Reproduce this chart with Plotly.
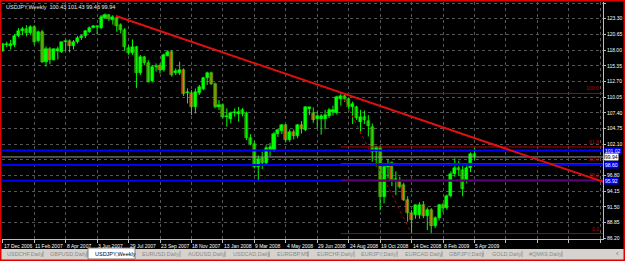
import plotly.graph_objects as go

symbol = "USDJPY,Weekly"
date_labels = ["17 Dec 2006", "11 Feb 2007", "8 Apr 2007", "3 Jun 2007", "29 Jul 2007",
               "23 Sep 2007", "18 Nov 2007", "13 Jan 2008", "9 Mar 2008", "4 May 2008",
               "29 Jun 2008", "24 Aug 2008", "19 Oct 2008", "14 Dec 2008", "8 Feb 2009", "5 Apr 2009"]
label_step = 8

opens = [117.9, 118.9, 118.7, 118.8, 120.3, 121.2, 121.5, 120.9, 121.9, 119.5,
         121.0, 116.0, 118.1, 116.3, 117.8, 117.7, 119.3, 119.5, 118.7, 119.4,
         120.0, 120.3, 121.1, 121.8, 121.9, 121.7, 123.5, 123.95, 123.1, 123.5,
         122.2, 121.4, 118.3, 117.45, 118.45, 114.06, 116.77, 115.87, 112.7, 115.2,
         115.3, 114.6, 117.0, 117.7, 114.06, 114.2, 114.6, 110.7, 110.8, 108.4,
         110.8, 111.5, 113.2, 114.06, 112.26, 108.4, 108.8, 106.7, 106.3, 107.3,
         107.2, 107.9, 107.3, 103.1, 102.2, 98.2, 99.7, 98.9, 101.1, 101.1,
         103.9, 104.3, 105.3, 102.8, 104.2, 103.4, 105.3, 104.5, 108.0, 107.4,
         106.3, 106.3, 106.3, 106.9, 107.6, 107.3, 109.8, 110.2, 109.8, 108.4,
         108.4, 105.9, 106.75, 106.0, 105.06, 100.8, 101.4, 93.2, 98.3, 98.86,
         96.05, 95.8, 95.2, 92.7, 90.4, 90.1, 90.2, 91.8, 89.95, 91.0,
         88.2, 89.6, 91.8, 91.4, 93.35, 97.06, 98.0, 97.8, 95.9, 98.0,
         100.43]
highs = [119.2, 119.4, 119.7, 120.7, 121.7, 121.9, 122.2, 122.2, 122.2, 121.3,
         121.4, 118.6, 118.5, 118.3, 118.6, 119.4, 119.8, 119.8, 119.7, 120.4,
         120.6, 121.4, 122.0, 122.2, 122.1, 123.9, 124.2, 124.1, 123.9, 123.8,
         122.5, 121.7, 118.85, 119.8, 118.7, 117.16, 117.0, 116.3, 115.5, 115.75,
         115.75, 117.44, 118.0, 118.0, 114.9, 116.03, 114.9, 111.53, 111.25, 111.5,
         112.1, 113.5, 114.35, 114.35, 112.5, 109.56, 109.0, 108.15, 107.6, 108.15,
         108.4, 108.2, 107.6, 103.8, 102.6, 100.2, 100.8, 101.9, 102.3, 104.2,
         104.7, 105.5, 105.5, 104.6, 104.6, 105.5, 106.0, 108.5, 108.4, 108.3,
         107.6, 107.2, 107.9, 108.2, 108.6, 110.3, 110.67, 110.5, 110.0, 109.3,
         108.6, 107.9, 107.8, 107.0, 105.6, 101.8, 101.9, 98.9, 99.6, 99.2,
         97.5, 96.6, 95.6, 93.3, 91.0, 91.9, 92.3, 92.5, 91.4, 91.3,
         89.9, 92.0, 92.2, 93.6, 97.5, 99.7, 99.3, 98.5, 98.4, 100.7,
         101.43]
lows = [117.7, 118.5, 118.1, 118.5, 120.2, 120.5, 120.3, 120.5, 118.9, 119.3,
        115.8, 115.2, 115.6, 116.2, 116.4, 117.5, 117.8, 117.6, 118.1, 119.1,
        119.7, 120.0, 120.9, 121.7, 120.7, 121.5, 123.35, 122.9, 122.3, 121.1,
        120.8, 117.9, 117.2, 117.2, 111.6, 113.78, 115.47, 112.5, 112.5, 114.35,
        114.06, 114.35, 116.9, 113.5, 113.78, 113.78, 110.24, 108.99, 107.0, 107.3,
        110.4, 111.2, 112.1, 112.1, 108.15, 107.87, 106.46, 105.05, 105.6, 106.74,
        105.9, 106.8, 102.8, 101.9, 98.0, 95.8, 97.9, 98.5, 100.1, 100.8,
        103.3, 103.8, 102.5, 102.5, 102.9, 103.1, 103.9, 104.3, 107.0, 105.7,
        104.8, 103.7, 104.6, 106.5, 106.9, 107.1, 108.6, 109.2, 108.0, 105.5,
        106.2, 103.9, 105.5, 103.4, 99.1, 98.3, 90.9, 92.1, 96.3, 95.0,
        93.5, 94.6, 92.5, 89.0, 87.0, 89.5, 89.5, 89.6, 87.6, 87.1,
        87.9, 89.2, 90.6, 91.0, 93.1, 96.6, 96.8, 93.3, 95.5, 97.4,
        99.46]
closes = [119.0, 119.1, 119.1, 120.4, 121.3, 121.5, 120.9, 121.9, 119.4, 121.0,
          116.0, 118.2, 116.4, 118.1, 118.1, 119.3, 119.6, 118.7, 119.4, 120.1,
          120.3, 121.2, 121.8, 122.05, 122.05, 123.6, 123.95, 123.2, 123.6, 122.05,
          121.4, 118.5, 117.55, 118.45, 114.06, 116.77, 115.87, 112.66, 115.2, 115.3,
          114.6, 117.16, 117.6, 113.8, 114.46, 114.6, 110.57, 110.97, 108.4, 110.97,
          111.8, 113.2, 114.06, 112.26, 108.4, 108.8, 106.74, 106.9, 107.3, 107.6,
          107.6, 107.2, 103.1, 102.2, 98.3, 99.6, 98.9, 101.4, 101.6, 103.9,
          104.5, 105.3, 102.8, 104.2, 103.4, 105.3, 104.6, 108.3, 108.3, 106.2,
          106.8, 106.9, 107.0, 107.9, 107.9, 110.1, 110.2, 109.8, 108.4, 108.9,
          106.5, 106.75, 106.2, 105.1, 100.83, 101.6, 93.23, 98.3, 98.8, 96.05,
          96.3, 94.9, 92.7, 90.4, 89.3, 91.8, 91.9, 90.0, 90.98, 88.2,
          89.6, 91.8, 91.4, 93.35, 97.06, 98.0, 97.8, 94.5, 98.0, 100.4,
          99.94]

price_ticks = [86.20, 88.85, 91.50, 94.15, 96.80, 99.45, 102.10, 104.75, 107.40,
               110.05, 112.70, 115.35, 118.00, 120.65, 123.30, 125.95]
hidden_ticks = [99.45]  # covered by the price tags in the reference
blue_levels = [101.02, 98.60, 95.92]
bid_price = 99.94
fib_high_bar, fib_high = 86, 110.67
fib_low_bar, fib_low = 104, 87.0
fib_ratios = [0.0, 0.382, 0.5, 0.618, 1.0]
fib_texts = ["0.0", "38.2", "50.0", "61.8", "100.0"]
trend_start = (28.8, 123.75)
trend_end = (152.9, 95.70)
tabs = ["USDCHF,Daily", "GBPUSD,Daily", "USDJPY,Weekly", "EURUSD,Daily", "AUDUSD,Daily",
        "USDCAD,Daily", "EURGBP,M5", "EURCHF,Daily", "EURJPY,Daily", "EURCAD,Daily",
        "GBPJPY,Daily", "GOLD,Daily", "#QMK9,Daily"]
active_tab = "USDJPY,Weekly"

# ---------------- layout geometry ----------------
W, H = 625, 261
ML, MR, MT, MB = 2, 22, 2, 22
PW, PH = W - ML - MR, H - MT - MB
X_RANGE = [-0.2, 152.7]
Y_RANGE = [86.08, 126.12]


def px_x(px):
    return (px - ML) / PW


def px_y(py):
    return (H - MB - py) / PH


FONT = "Liberation Sans"
GREEN = "#00FF00"
BEAR = "#D83A14"
n = len(opens)
xs = list(range(n))

fig = go.Figure()

# wicks
wx, wy = [], []
for i in xs:
    wx += [i, i, None]
    wy += [lows[i], highs[i], None]
fig.add_trace(go.Scatter(x=wx, y=wy, mode="lines", line=dict(color=GREEN, width=1),
                         hoverinfo="skip", showlegend=False))
# bodies
min_h = 0.09
base = [min(o, c) for o, c in zip(opens, closes)]
height = [max(abs(c - o), min_h) for o, c in zip(opens, closes)]
colors = [GREEN if c >= o else BEAR for o, c in zip(opens, closes)]
fig.add_trace(go.Bar(x=xs, y=height, base=base, width=0.78, marker=dict(
    color=colors, line=dict(color=GREEN, width=0.5)), hoverinfo="skip", showlegend=False))

shapes = []
for lv in blue_levels:
    shapes.append(dict(type="line", xref="paper", yref="y", x0=0, x1=1, y0=lv, y1=lv,
                       line=dict(color="#0000FF", width=2), layer="above"))
shapes.append(dict(type="line", xref="paper", yref="y", x0=0, x1=1, y0=bid_price, y1=bid_price,
                   line=dict(color="#9A9A9A", width=1)))
rng = fib_high - fib_low
for r in fib_ratios:
    lv = fib_low + r * rng
    shapes.append(dict(type="line", xref="x", yref="y", x0=fib_high_bar, x1=X_RANGE[1],
                       y0=lv, y1=lv, line=dict(color="#B00000", width=1)))
shapes.append(dict(type="line", xref="x", yref="y", x0=fib_high_bar, y0=fib_high,
                   x1=fib_low_bar, y1=fib_low, line=dict(color="#B00000", width=1, dash="dot")))
shapes.append(dict(type="line", xref="x", yref="y", x0=trend_start[0], y0=trend_start[1],
                   x1=trend_end[0], y1=trend_end[1], line=dict(color="#E01010", width=2)))

# tab bar
shapes.append(dict(type="rect", xref="paper", yref="paper", x0=px_x(0), x1=px_x(W),
                   y0=px_y(H), y1=px_y(249), fillcolor="#D6D3CE", line=dict(width=0), layer="above"))
annotations = []
tab_x = [5, 48, 93, 140, 186, 231, 275, 315, 359, 403, 447, 490, 527]
sep_x = [43, 87, 180, 225, 269, 308, 354, 397, 442, 483, 522, 562]
for sx in sep_x:
    shapes.append(dict(type="line", xref="paper", yref="paper", x0=px_x(sx), x1=px_x(sx),
                       y0=px_y(257), y1=px_y(251), line=dict(color="#9A9A9A", width=1), layer="above"))
for t, tx in zip(tabs, tab_x):
    if t == active_tab:
        shapes.append(dict(type="rect", xref="paper", yref="paper", x0=px_x(88), x1=px_x(135),
                           y0=px_y(259), y1=px_y(248), fillcolor="#FFFFFF",
                           line=dict(color="#808080", width=1), layer="above"))
        col = "#000000"
    else:
        col = "#8A8A8A"
    annotations.append(dict(text=t, xref="paper", yref="paper", x=px_x(tx), y=px_y(254),
                            xanchor="left", yanchor="middle", showarrow=False,
                            font=dict(family=FONT, size=5.5, color=col)))
annotations.append(dict(text="\u2039", xref="paper", yref="paper", x=px_x(617), y=px_y(254),
                        xanchor="center", yanchor="middle", showarrow=False,
                        font=dict(family=FONT, size=8, color="#7A7A7A")))
shapes.append(dict(type="rect", xref="paper", yref="paper", x0=px_x(0), x1=px_x(W),
                   y0=px_y(H), y1=px_y(0), line=dict(color="#E00000", width=3), layer="above"))

for k, lab in enumerate(date_labels):
    annotations.append(dict(text=lab, xref="x", yref="paper", x=k * label_step, y=px_y(241),
                            xanchor="left", yanchor="top", showarrow=False, xshift=-1,
                            font=dict(family=FONT, size=5, color="#FFFFFF")))
for r, t in zip(fib_ratios, fib_texts):
    lv = fib_low + r * rng
    annotations.append(dict(text=t, xref="paper", yref="y", x=px_x(601), y=lv,
                            xanchor="right", yanchor="bottom", showarrow=False,
                            font=dict(family=FONT, size=5, color="#C00000")))
for lv in blue_levels:
    annotations.append(dict(text=f"{lv:.2f}", xref="paper", yref="y", x=px_x(604), y=lv,
                            xanchor="left", yanchor="middle", showarrow=False, bgcolor="#0000FF",
                            borderpad=0, font=dict(family=FONT, size=5, color="#FFFFFF")))
annotations.append(dict(text=f"{bid_price:.2f}", xref="paper", yref="y", x=px_x(604), y=bid_price,
                        xanchor="left", yanchor="middle", showarrow=False, bgcolor="#FFFFFF",
                        borderpad=0, font=dict(family=FONT, size=5, color="#000000")))
annotations.append(dict(text=f"{symbol}  {opens[-1]:.2f} {highs[-1]:.2f} {lows[-1]:.2f} {closes[-1]:.2f}",
                        xref="paper", yref="paper", x=px_x(4), y=px_y(2), xanchor="left",
                        yanchor="top", showarrow=False,
                        font=dict(family=FONT, size=5.5, color="#E8E8E8")))

fig.update_layout(
    width=W, height=H, margin=dict(l=ML, r=MR, t=MT, b=MB),
    paper_bgcolor="#000000", plot_bgcolor="#000000", bargap=0,
    shapes=shapes, annotations=annotations, showlegend=False,
    xaxis=dict(range=X_RANGE, tickvals=list(range(0, 153, label_step)), showticklabels=False,
               ticks="outside", ticklen=3, tickcolor="#BFBFBF", showgrid=True,
               gridcolor="#555555", griddash="dot", gridwidth=1, zeroline=False,
               showline=True, linecolor="#BFBFBF", linewidth=1, fixedrange=True),
    yaxis=dict(range=Y_RANGE, side="right", tickvals=price_ticks,
               ticktext=["" if v in hidden_ticks else f"{v:.2f}" for v in price_ticks],
               ticks="outside", ticklen=2,
               tickcolor="#BFBFBF", tickfont=dict(family=FONT, size=5, color="#FFFFFF"),
               showgrid=True, gridcolor="#555555", griddash="dot", gridwidth=1,
               zeroline=False, showline=True, linecolor="#BFBFBF", linewidth=1, fixedrange=True),
)

fig.write_html("out.html")
